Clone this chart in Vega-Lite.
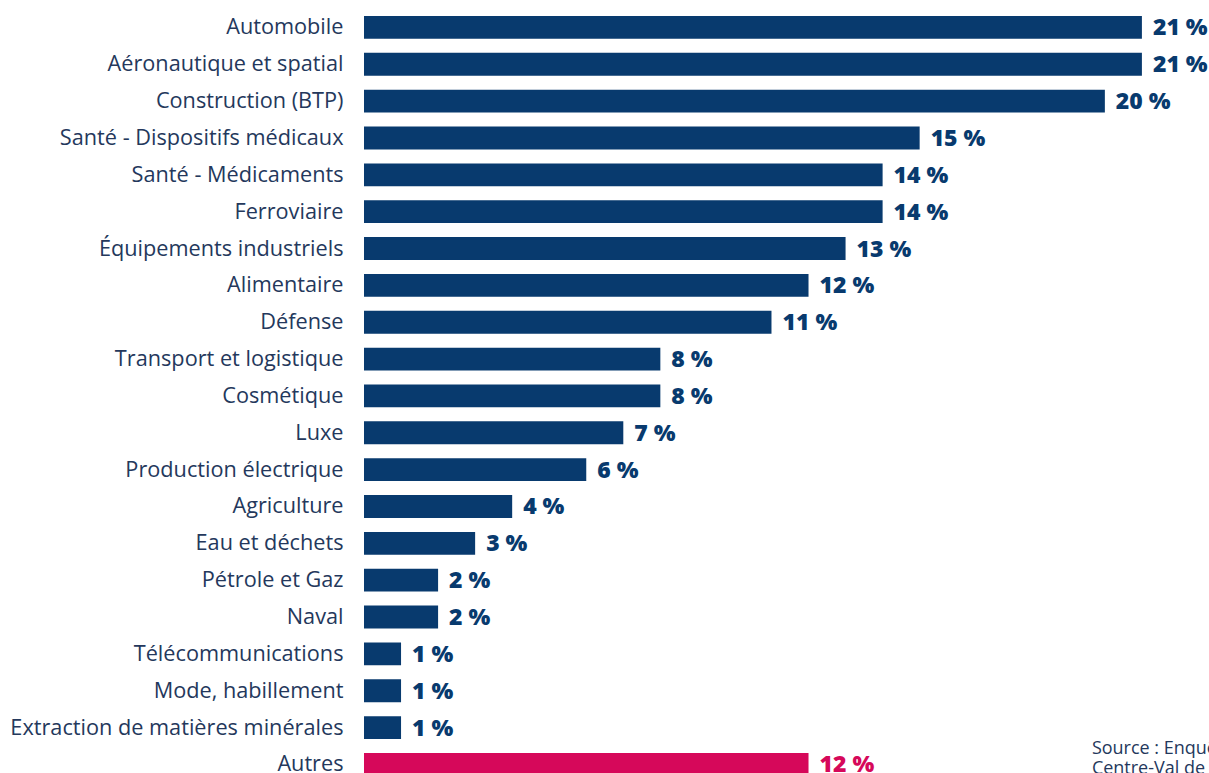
{
  "$schema": "https://vega.github.io/schema/vega-lite/v6.json",
  "autosize": {"type": "none"},
  "padding": {"left": 364, "top": 9, "right": 0, "bottom": 0},
  "width": 852,
  "height": 773.85,
  "background": "white",
  "config": {"view": {"stroke": null}, "font": "Open Sans"},
  "data": {
    "values": [
      {"secteur": "Automobile", "value": 21},
      {"secteur": "Aéronautique et spatial", "value": 21},
      {"secteur": "Construction (BTP)", "value": 20},
      {"secteur": "Santé - Dispositifs médicaux", "value": 15},
      {"secteur": "Santé - Médicaments", "value": 14},
      {"secteur": "Ferroviaire", "value": 14},
      {"secteur": "Équipements industriels", "value": 13},
      {"secteur": "Alimentaire", "value": 12},
      {"secteur": "Défense", "value": 11},
      {"secteur": "Transport et logistique", "value": 8},
      {"secteur": "Cosmétique", "value": 8},
      {"secteur": "Luxe", "value": 7},
      {"secteur": "Production électrique", "value": 6},
      {"secteur": "Agriculture", "value": 4},
      {"secteur": "Eau et déchets", "value": 3},
      {"secteur": "Pétrole et Gaz", "value": 2},
      {"secteur": "Naval", "value": 2},
      {"secteur": "Télécommunications", "value": 1},
      {"secteur": "Mode, habillement", "value": 1},
      {"secteur": "Extraction de matières minérales", "value": 1},
      {"secteur": "Autres", "value": 12}
    ]
  },
  "encoding": {
    "y": {
      "field": "secteur",
      "type": "nominal",
      "sort": null,
      "scale": {"paddingInner": 0.38, "paddingOuter": 0.19},
      "axis": {
        "title": null,
        "domain": false,
        "ticks": false,
        "labelPadding": 21,
        "labelFont": "Open Sans",
        "labelFontSize": 21.7,
        "labelColor": "#24385c",
        "labelLimit": 500
      }
    },
    "x": {
      "field": "value",
      "type": "quantitative",
      "scale": {"domain": [0, 23], "nice": false},
      "axis": null
    }
  },
  "layer": [
    {
      "mark": {"type": "bar"},
      "encoding": {
        "color": {
          "condition": {"test": "datum.secteur === 'Autres'", "value": "#d6085a"},
          "value": "#083a6e"
        }
      }
    },
    {
      "transform": [{"calculate": "datum.value + ' %'", "as": "label"}],
      "mark": {"type": "text", "align": "left", "baseline": "middle", "dx": 11, "dy": 1, "font": "Open Sans", "fontWeight": 800, "fontSize": 23},
      "encoding": {
        "text": {"field": "label"},
        "color": {
          "condition": {"test": "datum.secteur === 'Autres'", "value": "#d6085a"},
          "value": "#083a6e"
        }
      }
    },
    {
      "transform": [{"filter": "datum.secteur === 'Autres'"}],
      "mark": {"type": "text", "align": "left", "baseline": "alphabetic", "dy": -10, "font": "Open Sans", "fontSize": 18, "lineHeight": 20, "color": "#24385c"},
      "encoding": {
        "x": {"datum": 19.65},
        "text": {"value": ["Source : Enquête", "Centre-Val de Loire"]}
      }
    }
  ]
}
